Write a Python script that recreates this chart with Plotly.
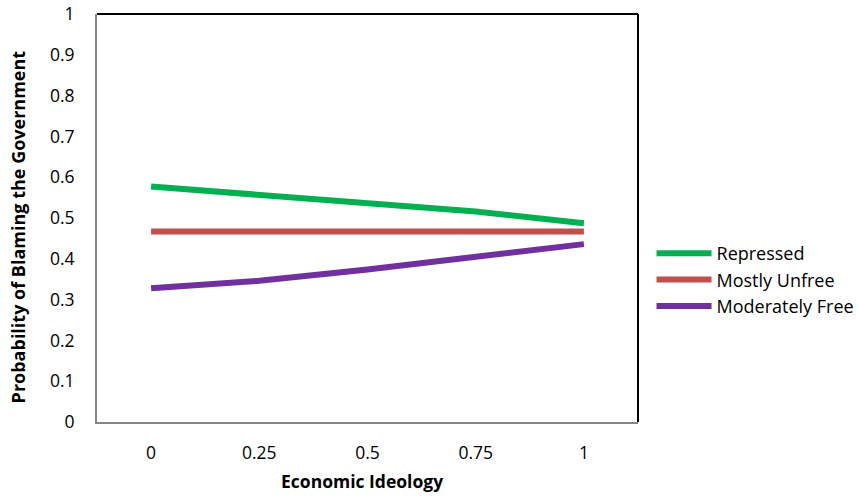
import plotly.graph_objects as go

categories = ["0", "0.25", "0.5", "0.75", "1"]
repressed = [0.577, 0.556, 0.537, 0.516, 0.487]
mostly_unfree = [0.467, 0.467, 0.467, 0.467, 0.467]
moderately_free = [0.328, 0.346, 0.374, 0.405, 0.436]
y_ticks = [0, 0.1, 0.2, 0.3, 0.4, 0.5, 0.6, 0.7, 0.8, 0.9, 1]

series = [
    ("Repressed", repressed, "#00B050"),
    ("Mostly Unfree", mostly_unfree, "#C0504D"),
    ("Moderately Free", moderately_free, "#7030A0"),
]

fig = go.Figure()
for name, vals, col in series:
    fig.add_trace(go.Scatter(x=categories, y=vals, name=name, mode="lines",
                             line=dict(color=col, width=6)))

font_family = "Open Sans, Liberation Sans, sans-serif"
fig.update_layout(
    width=859, height=497,
    margin=dict(l=97, r=221, t=14, b=75, autoexpand=False),
    paper_bgcolor="white", plot_bgcolor="white",
    font=dict(family=font_family, size=17, color="black"),
    showlegend=True,
    legend=dict(x=1.025, y=0.348, xanchor="left", yanchor="middle",
                font=dict(size=18), itemwidth=55, tracegroupgap=0,
                bgcolor="rgba(0,0,0,0)"),
    xaxis=dict(type="category", range=[-0.5, 4.5], showgrid=False,
               showline=True, linecolor="#868686", linewidth=2,
               ticks="", ticklabelstandoff=14, zeroline=False, automargin=False,
               tickfont=dict(size=17.5)),
    yaxis=dict(range=[0, 1], tickvals=y_ticks, ticktext=[f"{v:g}" for v in y_ticks],
               showgrid=False, showline=True, linecolor="#868686", linewidth=2,
               ticks="", ticklabelstandoff=17, zeroline=False, automargin=False,
               tickfont=dict(size=17.5)),
    shapes=[
        dict(type="line", xref="paper", yref="paper", x0=0, x1=1, y0=1, y1=1,
             line=dict(color="black", width=2)),
        dict(type="line", xref="paper", yref="paper", x0=1, x1=1, y0=0, y1=1,
             line=dict(color="black", width=2)),
    ],
    annotations=[
        dict(text="<b>Economic Ideology</b>", xref="paper", yref="paper",
             x=0.49, y=-0.145, xanchor="center", yanchor="middle",
             showarrow=False, font=dict(size=17.5)),
        dict(text="<b>Probability of Blaming the Government</b>", xref="paper", yref="paper",
             x=-0.146, y=0.477, xanchor="center", yanchor="middle", textangle=-90,
             showarrow=False, font=dict(size=18)),
    ],
)

fig.write_html("out.html")
